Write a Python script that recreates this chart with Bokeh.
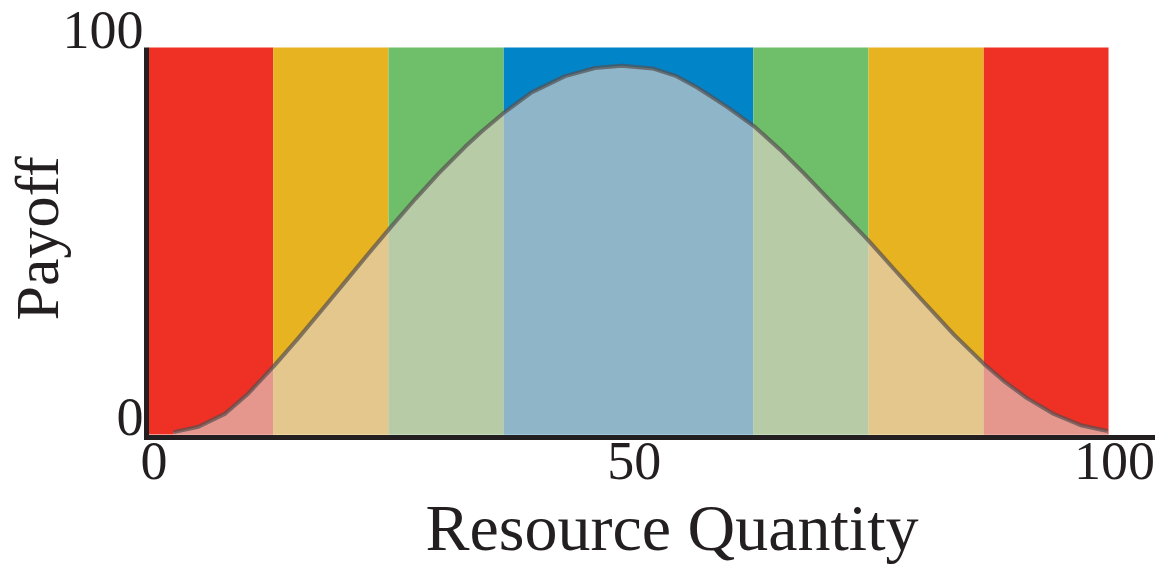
from bokeh.plotting import figure
from bokeh.models import Range1d, FixedTicker, LinearAxis, Title
from bokeh.embed import file_html
from bokeh.resources import INLINE

# ---- data ----
band_edges = [0, 13, 25, 37, 63, 75, 87, 100]
band_colors = ["#EE3124", "#E8B321", "#6FBF6A", "#0284C8", "#6FBF6A", "#E8B321", "#EE3124"]

curve_x = [2.6, 5.2, 8.0, 10.4, 13.1, 15.6, 18.4, 20.8, 22.9, 25.1, 27.8, 30.2, 33.0,
           34.7, 36.9, 39.9, 43.4, 46.5, 49.3, 52.5, 55.0, 57.2, 60.3, 63.2, 65.8,
           68.3, 71.7, 75.0, 77.6, 80.4, 83.9, 87.0, 89.1, 91.5, 94.3, 97.1, 99.9]
curve_y = [0.6, 2.0, 5.4, 10.6, 17.8, 24.9, 33.2, 40.4, 46.7, 53.2, 60.9, 67.4, 74.4,
           78.3, 82.9, 88.4, 92.6, 94.7, 95.3, 94.6, 92.6, 89.6, 84.6, 79.4, 73.6,
           67.4, 58.6, 50.1, 42.9, 35.2, 25.8, 18.3, 13.8, 9.4, 5.3, 2.4, 0.9]

x_ticks = [0, 50, 100]
y_ticks = [0, 100]

x_title = "Resource Quantity"
y_title = "Payoff"

ink = "#231F20"
serif = "Liberation Serif"

# ---- figure ----
p = figure(width=1168, height=573,
           x_range=Range1d(-0.21, 104.58), y_range=Range1d(-0.78, 109.56),
           output_backend="svg", toolbar_location=None, title_location=None,
           min_border_left=146, min_border_right=16, min_border_top=10, min_border_bottom=136)
p.extra_x_ranges = {"xlab": Range1d(-0.789, 103.95)}
p.extra_y_ranges = {"ylab": Range1d(-5.38, 104.96)}
p.xgrid.visible = False
p.ygrid.visible = False
p.outline_line_color = None
p.background_fill_color = "white"
p.border_fill_color = "white"


def plain(ax):
    ax.major_tick_line_color = None
    ax.minor_tick_line_color = None
    ax.major_tick_out = 0
    ax.major_tick_in = 0
    ax.minor_tick_out = 0
    ax.minor_tick_in = 0


# main axes: only the thick rule
for ax in (p.xaxis[0], p.yaxis[0]):
    ax.ticker = FixedTicker(ticks=[], minor_ticks=[])
    plain(ax)
    ax.major_label_standoff = 0
    ax.axis_line_width = 5
    ax.axis_line_color = ink
p.xaxis[0].axis_line_cap = "square"
p.yaxis[0].bounds = (-0.78, 100)

# tick-label axes
xlab = LinearAxis(x_range_name="xlab", ticker=FixedTicker(ticks=x_ticks, minor_ticks=[]))
ylab = LinearAxis(y_range_name="ylab", ticker=FixedTicker(ticks=y_ticks, minor_ticks=[]))
for ax in (xlab, ylab):
    plain(ax)
    ax.axis_line_color = None
    ax.major_label_text_font = serif
    ax.major_label_text_font_size = "54px"
    ax.major_label_text_color = ink
xlab.major_label_standoff = 5
ylab.major_label_standoff = 3
p.add_layout(xlab, "below")
p.add_layout(ylab, "left")

# bands
p.quad(left=band_edges[:-1], right=band_edges[1:], bottom=0, top=100,
       fill_color=band_colors, line_color=None)

# payoff curve
p.varea(x=curve_x, y1=0, y2=curve_y, fill_color="#DFD1CA", fill_alpha=0.64)
p.line(curve_x, curve_y, line_color="#555050", line_alpha=0.7, line_width=4,
       line_join="round")

# titles
tx = Title(text=x_title, align="left", offset=279, text_font=serif, text_font_size="66px",
           text_font_style="normal", text_color=ink)
ty = Title(text=y_title, align="left", offset=117, text_font=serif, text_font_size="62px",
           text_font_style="normal", text_color=ink)
try:
    tx.standoff = 15
    ty.standoff = -22
except Exception:
    pass
p.add_layout(tx, "below")
p.add_layout(ty, "left")

open("out.html", "w").write(file_html(p, INLINE))
